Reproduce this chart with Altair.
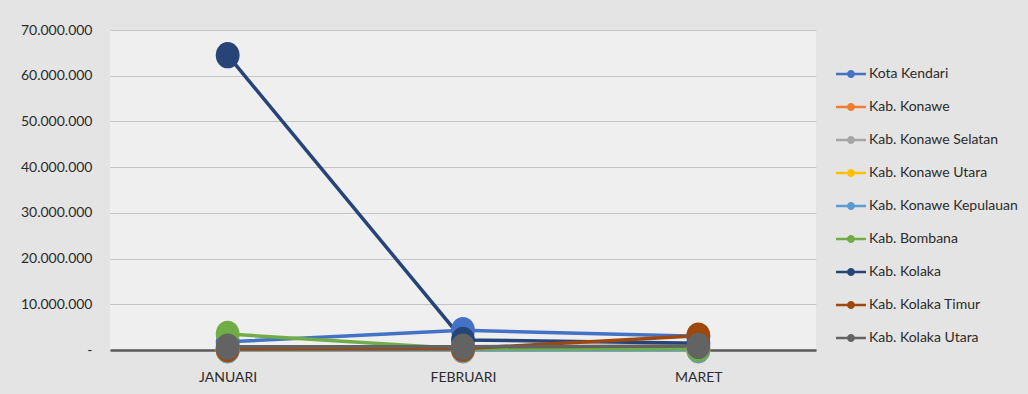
import altair as alt
import pandas as pd

months = ["JANUARI", "FEBRUARI", "MARET"]
series = [
    "Kota Kendari", "Kab. Konawe", "Kab. Konawe Selatan", "Kab. Konawe Utara",
    "Kab. Konawe Kepulauan", "Kab. Bombana", "Kab. Kolaka", "Kab. Kolaka Timur",
    "Kab. Kolaka Utara",
]
colors = ["#4472C4", "#ED7D31", "#A5A5A5", "#FFC000", "#5B9BD5",
          "#70AD47", "#264478", "#9E480E", "#636363"]

kota_kendari = [1800000, 4300000, 3000000]
konawe = [0, 0, 0]
konawe_selatan = [0, 0, 0]
konawe_utara = [0, 0, 0]
konawe_kepulauan = [0, 0, 0]
bombana = [3500000, 300000, 300000]
kolaka = [64500000, 2200000, 1500000]
kolaka_timur = [200000, 300000, 3100000]
kolaka_utara = [700000, 700000, 900000]

values = [kota_kendari, konawe, konawe_selatan, konawe_utara, konawe_kepulauan,
          bombana, kolaka, kolaka_timur, kolaka_utara]

rows = []
for s_i, (name, vals) in enumerate(zip(series, values)):
    for m, v in zip(months, vals):
        rows.append({"Bulan": m, "Wilayah": name, "Nilai": v, "urut": s_i})
df = pd.DataFrame(rows)

FONT = "Lato, sans-serif"
TXT = "#2b2b2b"

x = alt.X("Bulan:N", sort=months, title=None,
          axis=alt.Axis(labelAngle=0, labelPadding=20, ticks=False, domain=True,
                        domainColor="#5a5a5a", domainWidth=2.5, labelFontSize=14,
                        labelColor=TXT, labelFont=FONT, grid=False))
y = alt.Y("Nilai:Q", title=None,
          scale=alt.Scale(domain=[0, 70000000], nice=False),
          axis=alt.Axis(values=[0, 10000000, 20000000, 30000000, 40000000,
                                50000000, 60000000, 70000000],
                        labelExpr="datum.value == 0 ? '-' : replace(format(datum.value, ','), /,/g, '.')",
                        domain=False, ticks=False, labelPadding=18, labelFontSize=14,
                        labelColor=TXT, labelFont=FONT,
                        gridColor="#c4c4c4", gridWidth=1))

legend = alt.Legend(
    orient="none", legendX=731, legendY=34,
    symbolType="M-1.5,-0.12H1.5V0.12H-1.5Z M0,-0.4A0.4,0.4,0,1,1,0,0.4A0.4,0.4,0,1,1,0,-0.4Z",
    symbolSize=400, symbolStrokeWidth=0, symbolOpacity=1, labelFontSize=14,
    labelColor=TXT, labelFont=FONT, rowPadding=16, labelOffset=8,
    labelLimit=300,
)
color = alt.Color("Wilayah:N", scale=alt.Scale(domain=series, range=colors),
                  sort=series, title=None, legend=legend)

lines = alt.Chart(df).mark_line(strokeWidth=3.5).encode(
    x=x, y=y, color=color, order=alt.Order("urut:Q"),
)

points = alt.Chart(df).mark_point(
    filled=True, size=700, opacity=1,
    shape="M0,-1A0.9,1,0,1,1,0,1A0.9,1,0,1,1,0,-1Z",
).encode(
    x=x, y=y, color=color, order=alt.Order("urut:Q"),
)

chart = alt.layer(lines, points).properties(
    width=706, height=320,
    padding={"left": 110, "top": 30, "right": 212, "bottom": 44},
    autosize=alt.AutoSizeParams(type="none"),
    background="#e4e4e4",
).configure_view(stroke=None, fill="#efefef")

chart.save("out.html", embed_options={"renderer": "svg", "actions": False})
